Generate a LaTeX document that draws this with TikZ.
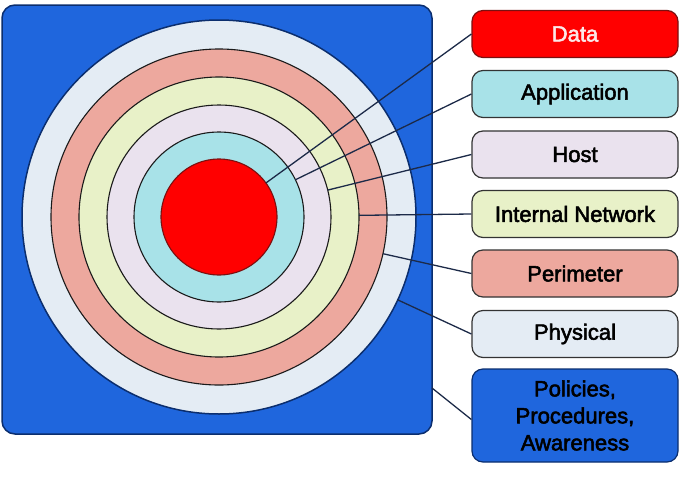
\documentclass[tikz,border=0pt]{standalone}
\usepackage{fontspec}
\setmainfont{Liberation Sans}
\newfontfamily\labelfont[FakeBold=2.4]{Liberation Sans}
\usetikzlibrary{calc}

\definecolor{panelblue}{HTML}{1F66DD}
\definecolor{paneledge}{HTML}{0B2E6E}
\definecolor{physfill}{HTML}{E4ECF4}
\definecolor{perifill}{HTML}{EDA89E}
\definecolor{netfill}{HTML}{E8F1C8}
\definecolor{hostfill}{HTML}{EAE2EE}
\definecolor{appfill}{HTML}{A8E2E8}
\definecolor{datafill}{HTML}{FF0000}
\definecolor{dataedge}{HTML}{7A1010}
\definecolor{boxedge}{HTML}{333333}
\definecolor{ringedge}{HTML}{1A1A1A}
\definecolor{linkcol}{HTML}{1C2A48}
\definecolor{datatext}{HTML}{FCE8E8}

\tikzset{
  layer/.style={rectangle, rounded corners=11pt, draw=boxedge, line width=1.2pt,
    minimum width=206pt, minimum height=47pt, inner sep=0pt, align=center,
    font=\labelfont\fontsize{22}{27}\selectfont},
  ring/.style={draw=ringedge, line width=1.1pt},
  link/.style={draw=linkcol, line width=1.3pt}
}

\begin{document}
\begin{tikzpicture}[x=1pt, y=-1pt]
\useasboundingbox (0,0) rectangle (683,477);

% outer panel
\draw[fill=panelblue, draw=paneledge, line width=1.5pt, rounded corners=13pt]
  (2,5) rectangle (432,434);

% concentric layers
\coordinate (c) at (219,217);
\fill[physfill, draw=paneledge, line width=1.5pt] (c) circle[radius=197];
\filldraw[ring, fill=perifill] (c) circle[radius=168];
\filldraw[ring, fill=netfill] (c) circle[radius=140];
\filldraw[ring, fill=hostfill] (c) circle[radius=112];
\filldraw[ring, fill=appfill] (c) circle[radius=85];
\filldraw[ring, fill=datafill, draw=dataedge] (c) circle[radius=58];

% labels
\node[layer, fill=datafill, draw=dataedge, text=datatext] (data) at (575,34) {Data};
\node[layer, fill=appfill] (app) at (575,94) {Application};
\node[layer, fill=hostfill] (host) at (575,154.5) {Host};
\node[layer, fill=netfill] (net) at (575,214) {Internal Network};
\node[layer, fill=perifill] (peri) at (575,273.5) {Perimeter};
\node[layer, fill=physfill] (phys) at (575,334) {Physical};
\node[layer, fill=panelblue, draw=paneledge, minimum height=93pt] (pol) at (575,415.5)
  {Policies,\\Procedures,\\Awareness};

% radial leader lines from each ring to its label
\draw[link] ($(c)!58pt!(data.west)$) -- (data.west);
\draw[link] ($(c)!85pt!(app.west)$) -- (app.west);
\draw[link] ($(c)!112pt!(host.west)$) -- (host.west);
\draw[link] ($(c)!140pt!(net.west)$) -- (net.west);
\draw[link] ($(c)!168pt!(peri.west)$) -- (peri.west);
\draw[link] ($(c)!197pt!(phys.west)$) -- (phys.west);
\coordinate (poledge) at (432,388);
\draw[link] (poledge) -- ($(pol.west)+(0,4)$);
\end{tikzpicture}
\end{document}
